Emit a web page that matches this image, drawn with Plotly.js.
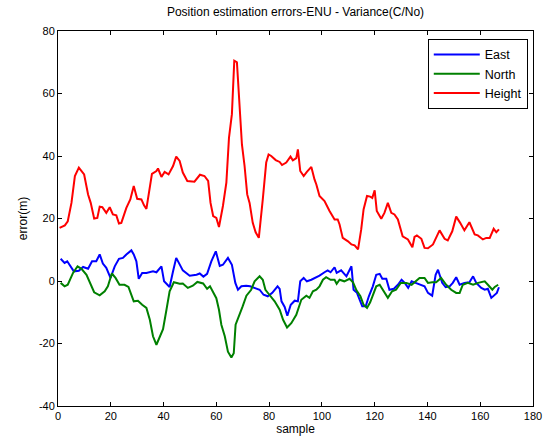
<!DOCTYPE html>
<html>
<head>
<meta charset="utf-8">
<script src="https://cdn.plot.ly/plotly-3.0.1.min.js"></script>
<style>html,body{margin:0;padding:0;background:#fff;}#chart{width:553px;height:448px;}</style>
</head>
<body>
<div id="chart"></div>
<script>
var heightX = [0.6,2.6,3.7,5.1,6.4,7.9,9.9,11.4,12.4,13.7,14.9,15.8,16.8,18.3,19.6,20.8,22.1,23.1,24.0,25.9,27.4,28.7,30.0,31.6,32.6,33.5,35.6,37.3,37.9,39.2,40.4,41.9,43.6,44.8,46.1,47.3,49.0,50.5,51.7,53.8,55.5,56.9,57.8,58.8,60.0,61.0,62.5,63.8,64.8,65.9,66.8,67.8,68.6,69.7,70.7,71.7,72.6,73.8,74.9,76.1,77.6,78.9,79.8,80.8,82.5,84.0,84.9,86.5,88.1,89.0,90.3,90.9,91.8,93.1,94.3,96.0,97.2,97.9,99.1,101.0,102.9,104.8,106.0,106.7,107.9,109.9,111.2,112.4,113.7,114.9,115.8,117.1,118.3,119.1,120.0,120.8,122.5,123.7,125.0,126.3,127.5,128.8,130.6,132.6,134.3,135.1,136.0,137.7,138.9,140.2,142.1,144.6,146.5,147.7,149.4,150.9,152.4,154.0,155.9,157.9,159.1,161.0,162.3,163.6,165.1,166.1,167.1];
var heightY = [17.0,17.8,19.1,25.0,33.6,36.3,34.1,27.7,25.0,20.0,20.2,23.8,23.6,21.8,23.6,21.3,21.0,18.4,18.6,23.4,26.1,30.4,26.3,26.1,24.2,23.1,34.3,35.2,36.0,33.3,34.9,34.1,36.8,39.8,38.4,34.7,32.0,32.0,31.8,34.0,33.6,32.0,25.0,20.8,20.2,17.3,24.0,31.5,45.9,53.4,70.5,70.0,59.3,43.7,36.8,27.7,25.0,18.6,15.6,13.8,26.1,37.9,40.5,40.0,38.7,38.1,37.1,37.9,39.8,38.6,39.3,42.1,35.2,33.6,34.9,36.5,32.5,30.9,27.2,25.6,22.4,19.7,19.7,18.1,13.8,12.7,11.7,11.4,10.1,16.5,22.9,27.2,27.0,26.6,29.0,22.4,19.9,21.8,25.0,21.8,21.3,19.7,14.3,13.3,10.8,14.1,14.6,13.5,10.6,10.5,11.7,16.2,13.5,13.0,15.9,20.6,18.6,16.2,18.8,14.9,14.6,13.3,13.8,13.8,16.7,15.6,16.5];

var eastX = [1.0,2.5,3.5,4.8,6.0,7.9,9.5,11.4,12.9,14.5,15.8,17.0,18.3,19.9,21.5,23.1,24.6,25.9,27.8,28.7,29.7,30.6,31.9,33.5,34.8,36.0,37.3,39.2,40.2,42.3,43.6,44.8,47.3,49.9,52.5,53.7,55.1,56.5,58.1,59.8,61.3,62.5,64.4,65.9,67.2,68.2,69.5,71.3,72.8,74.5,76.4,77.9,79.5,81.2,83.2,84.0,84.7,85.9,86.9,88.2,89.7,90.9,91.8,93.1,94.3,96.0,97.5,99.1,101.0,102.2,103.3,104.8,105.6,107.3,109.3,111.2,112.0,113.3,114.3,115.3,116.6,117.8,119.3,120.6,121.9,122.9,124.4,125.6,127.3,128.8,130.2,131.4,132.7,134.0,135.5,137.0,138.9,140.2,141.8,143.1,144.0,144.6,145.6,146.9,148.4,149.6,150.9,152.2,154.0,155.9,157.3,158.5,160.4,161.7,162.9,164.2,165.5,166.3,167.1];
var eastY = [7.1,5.8,6.3,4.7,3.1,3.3,4.5,3.9,6.3,6.3,8.5,5.6,4.2,1.0,4.7,7.1,7.4,8.5,9.8,8.5,6.3,0.7,2.6,2.6,2.8,3.1,2.8,4.7,-0.1,-1.9,3.1,7.4,3.4,1.7,2.0,2.4,1.4,2.3,6.3,9.5,4.8,5.2,7.4,5.2,-0.6,-2.8,-1.7,-1.5,-1.7,-2.2,-2.8,-4.4,-4.9,-3.8,-1.7,-2.5,-6.5,-8.3,-11.1,-7.6,-6.3,-6.5,-0.1,1.0,-0.1,0.4,1.0,1.7,2.8,3.4,2.8,4.4,2.6,3.4,1.5,4.7,-2.8,-3.8,-6.0,-8.1,-8.1,-4.9,-1.7,2.0,2.3,0.7,0.7,-2.8,-2.5,-1.2,0.4,-0.6,-2.2,-0.1,-0.6,-1.2,-1.7,-3.8,-4.7,2.0,3.6,2.0,-0.6,-2.0,-1.7,-0.6,1.2,-1.2,-0.6,-0.4,1.5,-0.6,-2.2,-2.8,-2.5,-5.4,-4.4,-3.8,-2.0];

var northX = [1.0,2.5,3.7,5.7,7.4,8.9,10.8,12.0,13.7,15.8,17.7,18.9,20.4,21.8,23.3,25.2,26.7,28.7,30.3,31.9,33.5,34.8,36.0,37.3,38.5,39.8,41.1,42.3,43.9,46.1,47.3,49.2,51.1,52.8,55.0,56.5,57.6,58.7,60.0,61.0,61.9,63.2,64.4,65.7,66.6,67.3,68.6,69.9,71.4,73.2,74.5,76.4,77.6,78.6,80.1,82.1,84.0,85.3,86.8,88.4,90.3,92.2,94.1,95.3,96.6,97.9,99.1,100.4,101.6,103.3,104.8,105.6,106.7,108.5,110.5,111.8,113.1,114.6,115.8,117.1,118.3,119.3,120.6,121.9,123.1,125.0,126.6,128.1,129.9,132.0,134.0,135.5,137.0,138.9,140.2,141.8,143.3,145.2,147.1,149.0,150.9,152.2,153.4,155.3,157.3,159.2,160.4,161.7,162.9,164.6,165.5,166.8];
var northY = [-0.6,-1.7,-1.2,2.6,4.7,3.9,2.0,-0.4,-3.6,-4.6,-3.3,-1.7,2.4,1.0,-1.2,-1.2,-1.9,-6.5,-6.3,-7.6,-8.6,-12.4,-17.7,-20.4,-17.7,-15.4,-9.2,-3.3,-0.4,-0.9,-0.8,-2.2,-1.5,-0.3,-0.8,-2.5,-1.7,-3.3,-5.5,-9.2,-14.0,-17.7,-22.6,-24.5,-23.1,-14.0,-11.3,-8.3,-4.7,-2.8,-0.1,1.5,0.4,-2.8,-4.4,-6.5,-9.2,-12.4,-14.9,-13.5,-10.8,-6.0,-4.7,-5.4,-3.3,-2.8,-1.7,0.4,1.2,0.4,0.4,-0.9,0.4,-0.1,0.7,-0.4,-3.0,-4.9,-7.6,-8.6,-6.8,-4.4,-1.7,-1.2,-2.8,-5.4,-3.3,-2.8,-0.6,-0.6,-1.2,-0.1,1.0,1.0,-0.6,-0.4,-0.4,1.0,-1.2,-2.8,-3.8,-3.8,-1.2,-0.6,-1.2,-0.6,-0.4,-0.1,-1.2,-2.8,-1.9,-1.2];

var seriesNames = ['East','North','Height'];
var seriesColors = ['#0000ff','#008000','#ff0000'];
var xTicks = [0,20,40,60,80,100,120,140,160,180];
var yTicks = [-40,-20,0,20,40,60,80];

var font = {family:'Liberation Sans, Arial, sans-serif', size:11, color:'#000'};
var xs = [eastX, northX, heightX];
var ys = [eastY, northY, heightY];
var data = seriesNames.map(function(n,i){
  return {x:xs[i], y:ys[i], type:'scatter', mode:'lines', name:n,
          line:{color:seriesColors[i], width:2}};
});

var axisBase = {showline:true, linecolor:'#000', linewidth:1, mirror:'ticks',
  ticks:'inside', ticklen:4, tickcolor:'#000', tickwidth:1, showgrid:false,
  zeroline:false, tickfont:font};

var layout = {
  width:553, height:448,
  margin:{l:58, r:20, t:31, b:42},
  paper_bgcolor:'#fff', plot_bgcolor:'#fff',
  font:font,
  title:{text:'Position estimation errors-ENU - Variance(C/No)', font:{family:font.family, size:12, color:'#000'},
         x:0.5, xref:'paper', xanchor:'center', y:0.973, yref:'container', yanchor:'middle'},
  xaxis: Object.assign({}, axisBase, {range:[0,180], tickvals:xTicks, ticktext:xTicks.map(String),
         title:{text:'sample', font:{family:font.family,size:12,color:'#000'}, standoff:2}}),
  yaxis: Object.assign({}, axisBase, {range:[-40,80], tickvals:yTicks, ticktext:yTicks.map(String),
         title:{text:'error(m)', font:{family:font.family,size:12,color:'#000'}, standoff:8}}),
  showlegend:true,
  legend:{x:0.989, xanchor:'right', y:0.979, yanchor:'top', bgcolor:'#fff',
          bordercolor:'#000', borderwidth:1, font:{family:font.family,size:12.5,color:'#000'},
          itemwidth:46, tracegroupgap:0}
};

Plotly.newPlot('chart', data, layout, {staticPlot:true, displayModeBar:false});
</script>
</body>
</html>
